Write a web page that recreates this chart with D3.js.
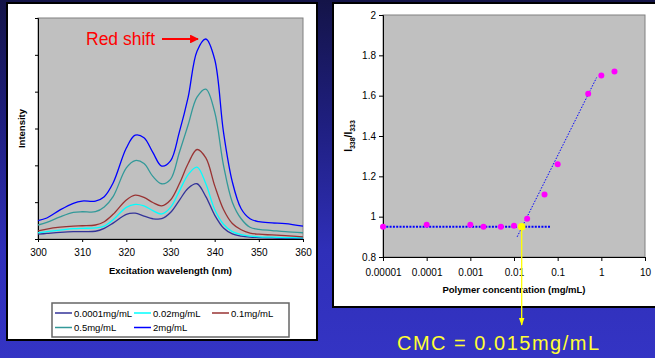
<!DOCTYPE html>
<html>
<head>
<meta charset="utf-8">
<script src="https://cdn.jsdelivr.net/npm/d3@7"></script>
<style>
  body { margin: 0; background: #3333c0; }
  svg { display: block; font-family: "Liberation Sans", Arial, sans-serif; }
</style>
</head>
<body>
<svg id="chart" width="655" height="358"></svg>
<script>
// ---- left chart: excitation spectra ----
const wavelengths = [300, 302, 305, 308, 310, 313, 315, 317, 320, 322, 324, 326, 328, 330, 332, 334, 336, 338, 340, 342, 344, 346, 348, 350, 353, 356, 360];
const spec00001 = [0.13, 0.15, 0.18, 0.20, 0.20, 0.21, 0.29, 0.43, 0.67, 0.70, 0.62, 0.55, 0.55, 0.72, 1.05, 1.38, 1.50, 1.15, 0.65, 0.30, 0.14, 0.08, 0.05, 0.04, 0.03, 0.02, 0.02];
const spec002 = [0.17, 0.20, 0.24, 0.28, 0.29, 0.30, 0.35, 0.52, 0.86, 0.94, 0.90, 0.77, 0.68, 0.86, 1.30, 1.75, 1.95, 1.50, 0.80, 0.40, 0.20, 0.12, 0.08, 0.06, 0.05, 0.04, 0.03];
const spec01 = [0.22, 0.27, 0.32, 0.35, 0.36, 0.38, 0.47, 0.67, 1.06, 1.19, 1.13, 0.99, 0.90, 1.06, 1.50, 2.05, 2.43, 2.20, 1.45, 0.80, 0.42, 0.25, 0.16, 0.13, 0.11, 0.09, 0.06];
const spec05 = [0.38, 0.45, 0.60, 0.72, 0.74, 0.74, 0.87, 1.15, 1.93, 2.13, 2.05, 1.70, 1.50, 1.62, 2.35, 3.10, 3.85, 4.07, 3.45, 2.00, 1.00, 0.55, 0.32, 0.26, 0.23, 0.20, 0.17];
const spec2 = [0.50, 0.57, 0.79, 0.97, 1.03, 1.03, 1.15, 1.52, 2.47, 2.82, 2.75, 2.35, 1.98, 2.12, 2.90, 3.85, 5.10, 5.43, 4.88, 2.90, 1.55, 0.82, 0.55, 0.47, 0.44, 0.42, 0.35];
const specNames = ["0.0001mg/mL", "0.02mg/mL", "0.1mg/mL", "0.5mg/mL", "2mg/mL"];
const specColors = ["#333399", "#00ffff", "#993333", "#339999", "#0000ff"];
const specData = [spec00001, spec002, spec01, spec05, spec2];

// ---- right chart: intensity ratio vs concentration ----
const conc = [0.00001, 0.0001, 0.001, 0.002, 0.005, 0.01, 0.02, 0.05, 0.1, 0.5, 1, 2];
const ratio = [0.95, 0.96, 0.96, 0.95, 0.95, 0.955, 0.99, 1.11, 1.26, 1.61, 1.70, 1.72];
const baseLine = [[0.00001, 0.95], [0.07, 0.95]];
const trendLine = [[0.0118, 0.90], [0.78, 1.69]];
const cmc = [0.015, 0.95];
const concTicks = [0.00001, 0.0001, 0.001, 0.01, 0.1, 1, 10];
const concLabels = ["0.00001", "0.0001", "0.001", "0.01", "0.1", "1", "10"];

const svg = d3.select("#chart");

// background
const defs = svg.append("defs");
const grad = defs.append("linearGradient").attr("id", "bg").attr("x1", 0).attr("y1", 0).attr("x2", 0).attr("y2", 1);
grad.append("stop").attr("offset", "0%").attr("stop-color", "#141448");
grad.append("stop").attr("offset", "35%").attr("stop-color", "#1f1f80");
grad.append("stop").attr("offset", "70%").attr("stop-color", "#2f2fb8");
grad.append("stop").attr("offset", "100%").attr("stop-color", "#3434c4");
svg.append("rect").attr("width", 655).attr("height", 358).attr("fill", "url(#bg)");

// panels
svg.append("rect").attr("x", 7).attr("y", 3).attr("width", 310).attr("height", 337)
  .attr("fill", "#fff").attr("stroke", "#000").attr("stroke-width", 2);
svg.append("rect").attr("x", 333).attr("y", 3).attr("width", 330).attr("height", 304)
  .attr("fill", "#fff").attr("stroke", "#000").attr("stroke-width", 2);

// ===== left chart =====
const L = {left: 38, right: 303, top: 18, bottom: 239};
const x1 = d3.scaleLinear().domain([300, 360]).range([L.left, L.right]);
const y1 = d3.scaleLinear().domain([0, 6]).range([L.bottom, L.top]);

svg.append("rect").attr("x", L.left).attr("y", L.top)
  .attr("width", L.right - L.left).attr("height", L.bottom - L.top)
  .attr("fill", "#c0c0c0").attr("stroke", "#808080").attr("stroke-width", 1);

const gx1 = svg.append("g").attr("transform", `translate(0,${L.bottom})`)
  .call(d3.axisBottom(x1).tickValues(d3.range(300, 361, 10)).tickSize(3).tickPadding(7).tickFormat(d3.format("d")));
const gy1 = svg.append("g").attr("transform", `translate(${L.left},0)`)
  .call(d3.axisLeft(y1).ticks(6).tickSize(3).tickFormat(""));
[gx1, gy1].forEach(g => {
  g.select(".domain").attr("stroke", "#000");
  g.selectAll("text").attr("font-size", 10).attr("fill", "#000").attr("font-family", "Liberation Sans, Arial");
});

const line1 = d3.line()
  .x((d, i) => x1(wavelengths[i]))
  .y(d => y1(d))
  .curve(d3.curveCatmullRom.alpha(0.5));

svg.append("g").selectAll("path").data(specData).join("path")
  .attr("d", line1)
  .attr("fill", "none")
  .attr("stroke", (d, i) => specColors[i])
  .attr("stroke-width", 1.3);

svg.append("text").attr("x", (L.left + L.right) / 2).attr("y", 274)
  .attr("text-anchor", "middle").attr("font-size", 9.5).attr("font-weight", "bold")
  .text("Excitation wavelength (nm)");
svg.append("text").attr("transform", `translate(25,${(L.top + L.bottom) / 2}) rotate(-90)`)
  .attr("text-anchor", "middle").attr("font-size", 9.5).attr("font-weight", "bold")
  .text("Intensity");

// red shift annotation
defs.append("marker").attr("id", "redArrow").attr("viewBox", "0 0 10 10")
  .attr("refX", 9).attr("refY", 5).attr("markerWidth", 4).attr("markerHeight", 4)
  .attr("markerUnits", "strokeWidth").attr("orient", "auto")
  .append("path").attr("d", "M0,0 L10,5 L0,10 z").attr("fill", "#ff0000");
svg.append("text").attr("x", 86).attr("y", 45).attr("font-size", 17.5).attr("fill", "#ff0000").text("Red shift");
svg.append("line").attr("x1", 162).attr("y1", 39).attr("x2", 198).attr("y2", 39)
  .attr("stroke", "#ff0000").attr("stroke-width", 2.2).attr("marker-end", "url(#redArrow)");

// legend
svg.append("rect").attr("x", 52).attr("y", 303).attr("width", 237).attr("height", 34)
  .attr("fill", "#fff").attr("stroke", "#666").attr("stroke-width", 1.5);
const legPos = [[55, 313], [134, 313], [212, 313], [55, 327.5], [134, 327.5]];
const leg = svg.append("g").selectAll("g").data(specNames).join("g")
  .attr("transform", (d, i) => `translate(${legPos[i][0]},${legPos[i][1]})`);
leg.append("line").attr("x1", 0).attr("x2", 17).attr("stroke", (d, i) => specColors[i]).attr("stroke-width", 1.5);
leg.append("text").attr("x", 19).attr("y", 3.5).attr("font-size", 9.5).text(d => d);

// ===== right chart =====
const R = {left: 383, right: 645, top: 15, bottom: 257};
const x2 = d3.scaleLog().domain([0.00001, 10]).range([R.left, R.right]);
const y2 = d3.scaleLinear().domain([0.8, 2]).range([R.bottom, R.top]);

svg.append("rect").attr("x", R.left).attr("y", R.top)
  .attr("width", R.right - R.left).attr("height", R.bottom - R.top)
  .attr("fill", "#c0c0c0").attr("stroke", "#808080").attr("stroke-width", 1);

const gx2 = svg.append("g").attr("transform", `translate(0,${R.bottom})`)
  .call(d3.axisBottom(x2).tickValues(concTicks).tickSize(4).tickPadding(8)
    .tickFormat((d, i) => concLabels[i]));
const gy2 = svg.append("g").attr("transform", `translate(${R.left},0)`)
  .call(d3.axisLeft(y2).tickValues([0.8, 1, 1.2, 1.4, 1.6, 1.8, 2]).tickSize(4).tickPadding(3)
    .tickFormat(d3.format("~g")));
[gx2, gy2].forEach(g => {
  g.select(".domain").attr("stroke", "#000");
  g.selectAll("text").attr("font-size", 10).attr("fill", "#000").attr("font-family", "Liberation Sans, Arial");
});

const line2 = d3.line().x(d => x2(d[0])).y(d => y2(d[1]));
svg.append("path").attr("d", line2(baseLine)).attr("fill", "none")
  .attr("stroke", "#0000ff").attr("stroke-width", 2.2).attr("stroke-dasharray", "2,1.3");
svg.append("path").attr("d", line2(trendLine)).attr("fill", "none")
  .attr("stroke", "#0000ff").attr("stroke-width", 1).attr("stroke-dasharray", "1.5,1.5");

svg.append("g").selectAll("circle").data(conc).join("circle")
  .attr("cx", d => x2(d)).attr("cy", (d, i) => y2(ratio[i])).attr("r", 3)
  .attr("fill", "#ff00ff");

svg.append("text").attr("x", (R.left + R.right) / 2).attr("y", 293)
  .attr("text-anchor", "middle").attr("font-size", 9.5).attr("font-weight", "bold")
  .text("Polymer concentration (mg/mL)");
const ylab = svg.append("text").attr("transform", `translate(352,${(R.top + R.bottom) / 2}) rotate(-90)`)
  .attr("text-anchor", "middle").attr("font-size", 10).attr("font-weight", "bold");
ylab.append("tspan").text("I");
ylab.append("tspan").attr("font-size", 7).attr("dy", 2.5).text("338");
ylab.append("tspan").attr("dy", -2.5).text("/I");
ylab.append("tspan").attr("font-size", 7).attr("dy", 2.5).text("333");

// CMC marker
defs.append("marker").attr("id", "yelArrow").attr("viewBox", "0 0 10 10")
  .attr("refX", 9).attr("refY", 5).attr("markerWidth", 6).attr("markerHeight", 6)
  .attr("markerUnits", "strokeWidth").attr("orient", "auto")
  .append("path").attr("d", "M0,1.5 L10,5 L0,8.5 z").attr("fill", "#ffff00");
svg.append("line").attr("x1", x2(cmc[0])).attr("y1", y2(cmc[1]))
  .attr("x2", x2(cmc[0])).attr("y2", 325)
  .attr("stroke", "#ffff00").attr("stroke-width", 1.3).attr("marker-end", "url(#yelArrow)");
svg.append("circle").attr("cx", x2(cmc[0])).attr("cy", y2(cmc[1])).attr("r", 3.8).attr("fill", "#ffff00");
svg.append("text").attr("x", 397).attr("y", 350).attr("font-size", 20).attr("letter-spacing", 1.5)
  .attr("fill", "#ffff33").text("CMC = 0.015mg/mL");
</script>
</body>
</html>
